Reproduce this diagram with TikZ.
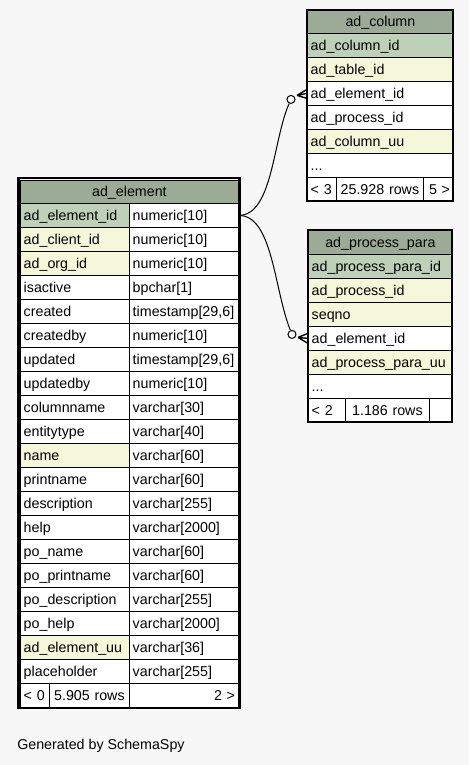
\documentclass[tikz,border=0pt]{standalone}
\usepackage{fontspec}
\setmainfont{Liberation Sans}
\usetikzlibrary{calc}
\definecolor{hdrgreen}{HTML}{9BAB96}
\definecolor{pkgreen}{HTML}{BED1B8}
\definecolor{idxyellow}{HTML}{F4F7DA}
\definecolor{pagebg}{HTML}{F7F7F7}
\newcommand{\morecols}{...}

\begin{document}
\begin{tikzpicture}[x=0.75pt, y=-0.75pt,
  cell/.style={draw=black, line width=0.6pt, anchor=north west, inner xsep=2.5pt,
    inner ysep=0pt, minimum height=18pt, text height=8.75pt, text depth=1.75pt,
    align=left, font=\fontsize{10.7}{12}\selectfont},
  hdr/.style={cell, fill=hdrgreen, align=center, minimum height=17.25pt},
  fklink/.style={line width=0.75pt},
  ring/.style={circle, draw=black, line width=0.75pt, fill=white, minimum size=6pt, inner sep=0pt}]

  % Page
  \fill[pagebg] (0,0) rectangle (469,765);
  \useasboundingbox (0,0) rectangle (469,765);

  % ad_element
  \node[hdr, text width=158.5pt] (el-h) at (20,180) {ad\_element};
  \foreach \cname/\ctype/\cfill [count=\i from 0] in {
      ad\_element\_id/numeric[10]/pkgreen,
      ad\_client\_id/numeric[10]/idxyellow,
      ad\_org\_id/numeric[10]/idxyellow,
      isactive/bpchar[1]/white,
      created/{timestamp[29,6]}/white,
      createdby/numeric[10]/white,
      updated/{timestamp[29,6]}/white,
      updatedby/numeric[10]/white,
      columnname/varchar[30]/white,
      entitytype/varchar[40]/white,
      name/varchar[60]/idxyellow,
      printname/varchar[60]/white,
      description/varchar[255]/white,
      help/varchar[2000]/white,
      po\_name/varchar[60]/white,
      po\_printname/varchar[60]/white,
      po\_description/varchar[255]/white,
      po\_help/varchar[2000]/white,
      ad\_element\_uu/varchar[36]/idxyellow,
      placeholder/varchar[255]/white} {
    \node[cell, fill=\cfill, text width=76.75pt] (el-\i-n) at (20,{203+24*\i}) {\cname};
    \node[cell, fill=white, text width=76.75pt] (el-\i-t) at (129,{203+24*\i}) {\ctype};
  }
  \node[cell, fill=white, text width=16.75pt] (el-f1) at (20,683) {< 0};
  \node[cell, fill=white, text width=55pt, align=center] (el-f2) at (49,683) {5.905 rows};
  \node[cell, fill=white, text width=76.75pt, align=right] (el-f3) at (129,683) {2 >};
  \draw[line width=2pt] (18.5,178) rectangle (239.5,708);

  % ad_column
  \node[hdr, text width=104.5pt] (col-h) at (307,10) {ad\_column};
  \foreach \cname/\cfill [count=\i from 0] in {
      ad\_column\_id/pkgreen,
      ad\_table\_id/idxyellow,
      ad\_element\_id/white,
      ad\_process\_id/white,
      ad\_column\_uu/idxyellow,
      \morecols/white} {
    \node[cell, fill=\cfill, text width=104.5pt] (col-\i-n) at (307,{33+24*\i}) {\cname};
  }
  \node[cell, fill=white, text width=16.75pt] (col-f1) at (307,177) {< 3};
  \node[cell, fill=white, text width=60.25pt, align=center] (col-f2) at (336,177) {25.928 rows};
  \node[cell, fill=white, text width=17.5pt, align=right] (col-f3) at (423,177) {5 >};
  \draw[line width=0.9pt] (307,10) rectangle (453,201);

  % ad_process_para
  \node[hdr, text width=103pt, minimum height=18pt] (para-h) at (308,230) {ad\_process\_para};
  \foreach \cname/\cfill [count=\i from 0] in {
      ad\_process\_para\_id/pkgreen,
      ad\_process\_id/idxyellow,
      seqno/idxyellow,
      ad\_element\_id/white,
      ad\_process\_para\_uu/idxyellow,
      \morecols/white} {
    \node[cell, fill=\cfill, text width=103pt] (para-\i-n) at (308,{254+24*\i}) {\cname};
  }
  \node[cell, fill=white, text width=22.75pt] (para-f1) at (308,398) {< 2};
  \node[cell, fill=white, text width=58pt, align=center] (para-f2) at (345,398) {1.186 rows};
  \node[cell, fill=white, text width=12.25pt] (para-f3) at (429,398) {};
  \draw[line width=0.9pt] (308,230) rectangle (452,422);

  % Foreign keys
  \node[ring] (ring-col) at ($(col-2-n.west)+(-16,6)$) {};
  \draw[fklink] (el-0-t.east) .. controls +(34,0) and +(-18,40) .. (ring-col);
  \draw[line width=1pt] ($(col-2-n.west)+(-10,2)$) -- ($(col-2-n.west)+(0,-4)$)
    ($(col-2-n.west)+(-10,2)$) -- (col-2-n.west)
    ($(col-2-n.west)+(-10,2)$) -- ($(col-2-n.west)+(0,5)$);

  \node[ring] (ring-para) at ($(para-3-n.west)+(-16,-4)$) {};
  \draw[fklink] (el-0-t.east) .. controls +(34,0) and +(-18,-45) .. (ring-para);
  \draw[line width=1pt] ($(para-3-n.west)+(-10,-1)$) -- ($(para-3-n.west)+(0,-5)$)
    ($(para-3-n.west)+(-10,-1)$) -- (para-3-n.west)
    ($(para-3-n.west)+(-10,-1)$) -- ($(para-3-n.west)+(0,5)$);

  % Credit
  \node[anchor=west, inner sep=0pt, font=\fontsize{10.7}{12}\selectfont] (credit) at (17,746) {Generated by SchemaSpy};
\end{tikzpicture}
\end{document}
